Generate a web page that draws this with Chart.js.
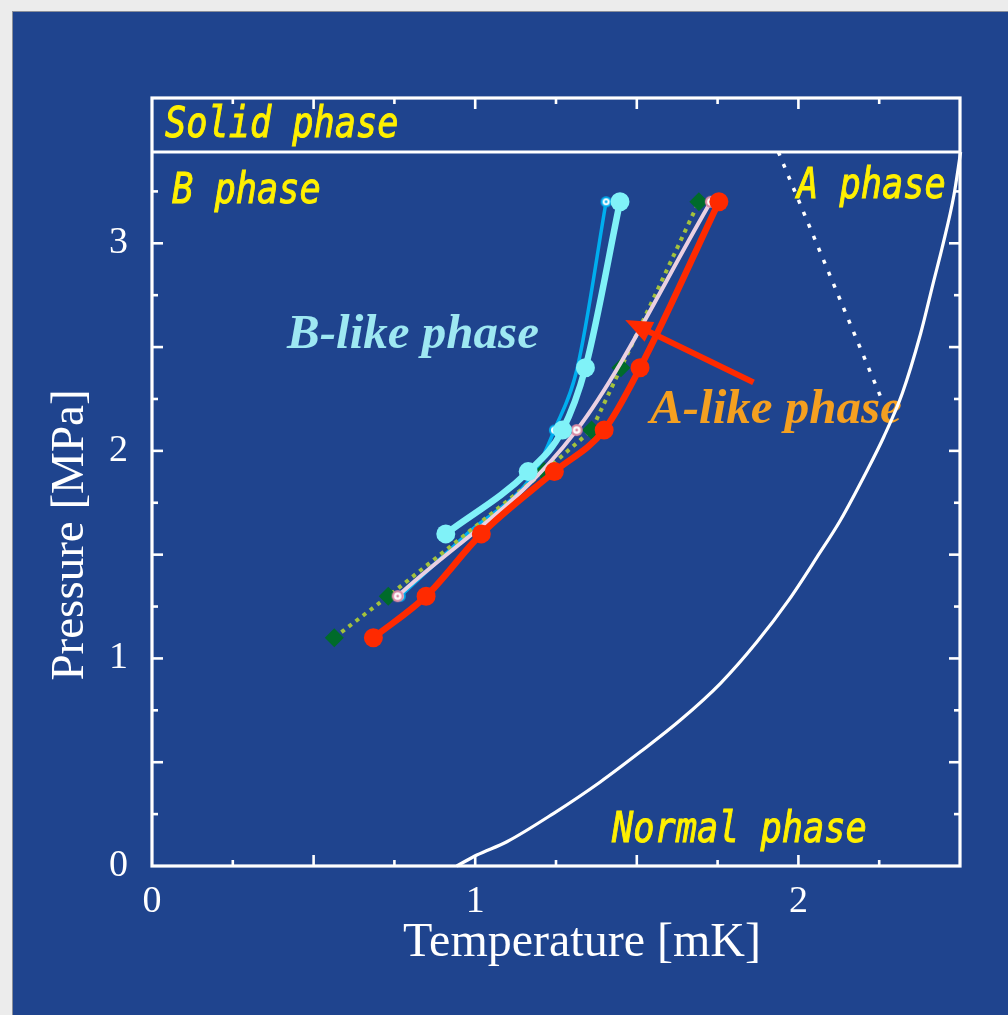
<!DOCTYPE html>
<html>
<head>
<meta charset="utf-8">
<script src="https://cdn.jsdelivr.net/npm/chart.js@4.4.1/dist/chart.umd.min.js"></script>
<style>
  html, body { margin: 0; padding: 0; background: #ececec; width: 1008px; height: 1015px; overflow: hidden; }
  #panel { position: absolute; left: 12px; top: 11px; width: 996px; height: 1004px; background: #1f448e; border-top: 1px solid #8a8f9a; border-left: 1px solid #8a8f9a; box-sizing: border-box; }
  #chart { position: absolute; left: 0; top: 0; }
</style>
</head>
<body>
<div id="panel"></div>
<canvas id="chart" width="1008" height="1015"></canvas>
<script>
// ---- Data: temperature in mK, pressure in MPa ----
const pressures = [1.1, 1.3, 1.6, 1.9, 2.1, 2.4, 3.2];

// red, thick line with large dots (A-like transition)
const redT = [0.685, 0.848, 1.019, 1.245, 1.399, 1.510, 1.754];
const redP = pressures;

// light cyan, thick line with large dots (B-like transition)
const cyanT = [0.909, 1.164, 1.270, 1.341, 1.448];
const cyanP = [1.6, 1.9, 2.1, 2.4, 3.2];

// deep sky blue thin line; ringed dots only where measured
const blueT = [0.768, 0.975, 1.185, 1.245, 1.316, 1.405];
const blueP = [1.3, 1.6, 1.9, 2.1, 2.4, 3.2];
const blueDot = [5, 0, 0, 5, 0, 5];

// pale pink line with small ringed dots
const pinkT = [0.760, 1.314, 1.729];
const pinkP = [1.3, 2.1, 3.2];

// green diamonds on a dotted line
const greenT = [0.564, 0.731, 1.213, 1.360, 1.451, 1.692];
const greenP = [1.1, 1.3, 1.9, 2.1, 2.4, 3.2];

// phase boundaries of bulk 3He
const normalT = [0.943, 1.005, 1.098, 1.243, 1.387, 1.511, 1.635, 1.759, 1.872, 1.970, 2.058, 2.130, 2.213, 2.264, 2.321, 2.378, 2.419, 2.445, 2.481, 2.502];
const normalP = [0.0, 0.053, 0.117, 0.254, 0.405, 0.550, 0.703, 0.880, 1.080, 1.281, 1.489, 1.666, 1.907, 2.067, 2.275, 2.564, 2.820, 2.980, 3.230, 3.440];
const abT = [1.938, 2.259];
const abP = [3.440, 2.244];
const meltT = [0, 2.5];
const meltP = [3.44, 3.44];

// axis ranges and labelled ticks
const xRange = [0, 2.5];
const yRange = [0, 3.7];
const xTickLabels = [0, 1, 2];
const yTickLabels = [0, 1, 2, 3];

// region names: [text, T, P]
const phaseNames = [
  ['Solid phase', 0.040, 3.512],
  ['B phase', 0.062, 3.194],
  ['A phase', 1.996, 3.218],
  ['Normal phase', 1.423, 0.116]
];
const likeNames = [
  ['B-like phase', 0.418, 2.496, '#9ee8f2'],
  ['A-like phase', 1.541, 2.134, '#f5a020']
];
// arrow from the A-like label toward the red curve: [T, P]
const arrowTail = [1.861, 2.330];
const arrowTip = [1.464, 2.630];

const pts = (xs, ys) => xs.map((v, i) => ({ x: v, y: ys[i] }));

function ringDot(r, ring, col) {
  const c = document.createElement('canvas');
  const s = Math.ceil(r * 2 + 2);
  c.width = s; c.height = s;
  const g = c.getContext('2d');
  g.fillStyle = col; g.beginPath(); g.arc(s / 2, s / 2, r, 0, Math.PI * 2); g.fill();
  g.fillStyle = '#ffffff'; g.beginPath(); g.arc(s / 2, s / 2, r - ring, 0, Math.PI * 2); g.fill();
  g.fillStyle = col; g.beginPath(); g.arc(s / 2, s / 2, 1.4, 0, Math.PI * 2); g.fill();
  return c;
}

const datasets = [
  { data: pts(normalT, normalP), borderColor: '#ffffff', borderWidth: 3.2, pointRadius: 0, cubicInterpolationMode: 'monotone', order: 9 },
  { data: pts(abT, abP), borderColor: '#ffffff', borderWidth: 3.5, borderDash: [4, 9], pointRadius: 0, order: 9 },
  { data: pts(meltT, meltP), borderColor: '#ffffff', borderWidth: 3, pointRadius: 0, order: 9 },
  { data: pts(blueT, blueP), borderColor: '#00aeef', borderWidth: 3.5, pointStyle: ringDot(5.5, 2, '#00aeef'), pointRadius: blueDot, cubicInterpolationMode: 'monotone', order: 6 },
  { data: pts(greenT, greenP), borderColor: '#a3c23c', borderWidth: 4, borderDash: [4, 5], pointStyle: 'rectRot', pointRadius: 9.5, pointBackgroundColor: '#006b2a', pointBorderColor: '#006b2a', pointBorderWidth: 0, order: 5 },
  { data: pts(pinkT, pinkP), borderColor: '#ead0e2', borderWidth: 4, pointStyle: ringDot(6, 2.2, '#d98aa4'), pointRadius: 6, cubicInterpolationMode: 'monotone', order: 4 },
  { data: pts(cyanT, cyanP), borderColor: '#80f2f8', borderWidth: 6.5, pointRadius: 9.5, pointBackgroundColor: '#80f2f8', pointBorderColor: '#80f2f8', pointBorderWidth: 0, cubicInterpolationMode: 'monotone', order: 3 },
  { data: pts(redT, redP), borderColor: '#ff2a00', borderWidth: 6.5, pointRadius: 9.5, pointBackgroundColor: '#ff2a00', pointBorderColor: '#ff2a00', pointBorderWidth: 0, cubicInterpolationMode: 'monotone', order: 2 }
];
datasets.forEach(d => { d.showLine = true; d.fill = false; d.clip = 4; });

const near = (v, step) => Math.abs(v / step - Math.round(v / step)) < 1e-6;

// frame with inward ticks on all four sides, plus the arrow
const framePlugin = {
  id: 'frame',
  afterDatasetsDraw(chart) {
    const { ctx, chartArea: a, scales: { x, y } } = chart;
    ctx.save();
    ctx.strokeStyle = '#ffffff';
    ctx.lineWidth = 3.2;
    ctx.strokeRect(a.left, a.top, a.right - a.left, a.bottom - a.top);
    ctx.lineWidth = 2.6;
    const seg = (x1, y1, x2, y2) => { ctx.beginPath(); ctx.moveTo(x1, y1); ctx.lineTo(x2, y2); ctx.stroke(); };
    x.ticks.forEach(t => {
      if (!near(t.value, 0.25) || t.value <= x.min || t.value >= x.max) return;
      const len = near(t.value, 0.5) ? 11 : 6;
      const p = x.getPixelForValue(t.value);
      seg(p, a.bottom, p, a.bottom - len);
      seg(p, a.top, p, a.top + len);
    });
    y.ticks.forEach(t => {
      if (!near(t.value, 0.25) || t.value <= y.min || t.value >= y.max) return;
      const len = near(t.value, 0.5) ? 11 : 6;
      const p = y.getPixelForValue(t.value);
      seg(a.left, p, a.left + len, p);
      seg(a.right, p, a.right - len, p);
    });
    const tx = x.getPixelForValue(arrowTip[0]), ty = y.getPixelForValue(arrowTip[1]);
    const sx = x.getPixelForValue(arrowTail[0]), sy = y.getPixelForValue(arrowTail[1]);
    const ang = Math.atan2(ty - sy, tx - sx);
    const hl = 27, hw = 11;
    const bx = tx - hl * Math.cos(ang), by = ty - hl * Math.sin(ang);
    ctx.strokeStyle = '#ff2a00'; ctx.fillStyle = '#ff2a00';
    ctx.lineWidth = 6;
    seg(sx, sy, bx + 4 * Math.cos(ang), by + 4 * Math.sin(ang));
    ctx.beginPath();
    ctx.moveTo(tx, ty);
    ctx.lineTo(bx + hw * Math.sin(ang), by - hw * Math.cos(ang));
    ctx.lineTo(bx - hw * Math.sin(ang), by + hw * Math.cos(ang));
    ctx.closePath(); ctx.fill();
    ctx.restore();
  }
};

// region names and axis titles
const labelPlugin = {
  id: 'labels',
  beforeDatasetsDraw(chart) {
    const { ctx, scales: { x, y } } = chart;
    ctx.save();
    ctx.fillStyle = '#fff000';
    ctx.strokeStyle = '#fff000';
    ctx.lineWidth = 1;
    ctx.font = 'oblique 42px "DejaVu Sans Mono"';
    ctx.textBaseline = 'alphabetic';
    ctx.textAlign = 'left';
    phaseNames.forEach(([s, tv, pv]) => {
      ctx.save();
      ctx.translate(x.getPixelForValue(tv), y.getPixelForValue(pv));
      ctx.scale(0.84, 1);
      ctx.fillText(s, 0, 0);
      ctx.strokeText(s, 0, 0);
      ctx.restore();
    });
    ctx.font = 'italic bold 49px "Liberation Serif"';
    likeNames.forEach(([s, tv, pv, col]) => {
      ctx.fillStyle = col;
      ctx.fillText(s, x.getPixelForValue(tv), y.getPixelForValue(pv));
    });
    ctx.fillStyle = '#ffffff';
    ctx.font = '48px "Liberation Serif"';
    ctx.textAlign = 'center';
    ctx.fillText('Temperature [mK]', 582, 956);
    ctx.translate(83, 535);
    ctx.rotate(-Math.PI / 2);
    ctx.font = '47px "Liberation Serif"';
    ctx.fillText('Pressure [MPa]', 0, 0);
    ctx.restore();
  }
};

const tickFont = { family: '"Liberation Serif"', size: 38 };

new Chart(document.getElementById('chart'), {
  type: 'scatter',
  data: { datasets },
  options: {
    responsive: false,
    animation: false,
    devicePixelRatio: 1,
    layout: { padding: { top: 98, right: 48, left: 0, bottom: 0 } },
    plugins: { legend: { display: false }, tooltip: { enabled: false } },
    elements: { line: { tension: 0 } },
    scales: {
      x: {
        type: 'linear', min: xRange[0], max: xRange[1],
        grid: { display: false, drawTicks: false }, border: { display: false },
        ticks: {
          stepSize: 0.25, autoSkip: false, maxRotation: 0, color: '#ffffff', font: tickFont, padding: 13,
          callback: v => (xTickLabels.includes(v) ? String(v) : '')
        },
        afterFit: s => { s.height = 149; }
      },
      y: {
        type: 'linear', min: yRange[0], max: yRange[1],
        grid: { display: false, drawTicks: false }, border: { display: false },
        ticks: {
          stepSize: 0.25, autoSkip: false, color: '#ffffff', font: tickFont, padding: 24,
          callback: v => (yTickLabels.includes(v) ? String(v) : '')
        },
        afterFit: s => { s.width = 152; }
      }
    }
  },
  plugins: [labelPlugin, framePlugin]
});
</script>
</body>
</html>
